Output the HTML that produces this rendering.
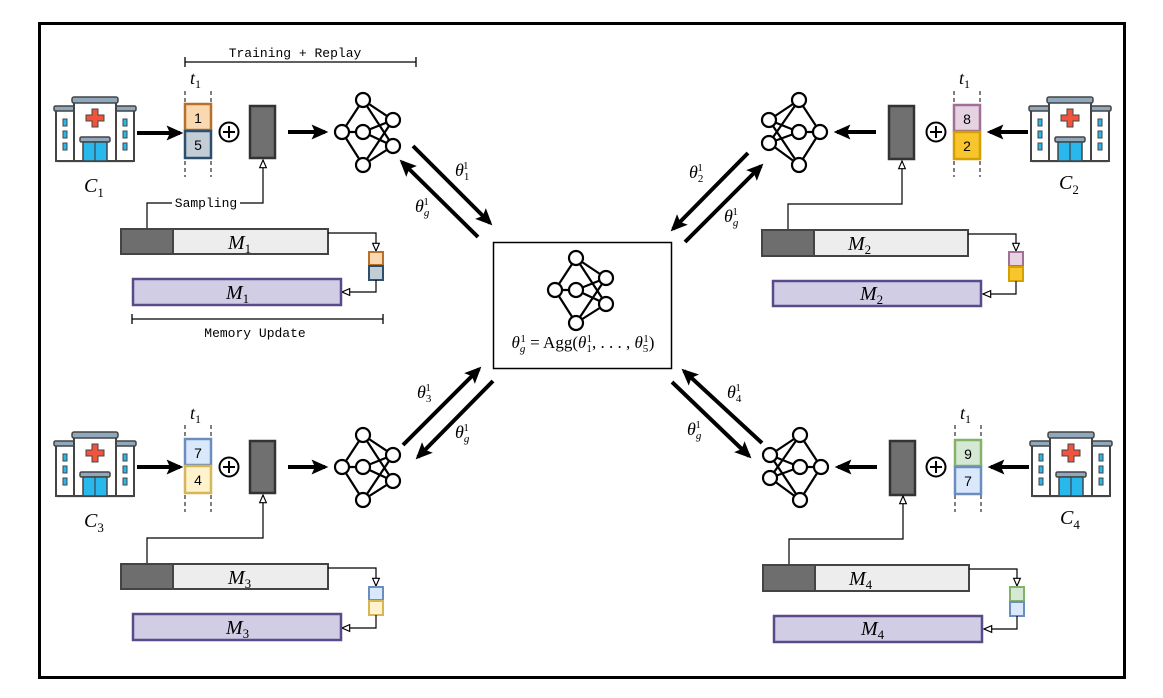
<!DOCTYPE html>
<html><head><meta charset="utf-8"><style>
html,body{margin:0;padding:0;background:#fff;}
svg{display:block;}
.m{font-family:"Liberation Serif","DejaVu Serif",serif;font-style:italic;}
.d{font-style:normal;}
.mono{font-family:"Liberation Mono",monospace;font-size:13px;}
.num{font-family:"Liberation Sans",sans-serif;font-size:14px;}
</style></head><body>
<svg width="1163" height="698" viewBox="0 0 1163 698" xmlns="http://www.w3.org/2000/svg">
<defs>
<marker id="hb" viewBox="0 0 10 10" refX="8" refY="5" markerWidth="4.2" markerHeight="4.2" orient="auto"><path d="M0,0.5L10,5L0,9.5L2,5z" fill="#000"/></marker>
<marker id="ho" viewBox="0 0 10 10" refX="9" refY="5" markerWidth="8" markerHeight="8" orient="auto"><path d="M1,1.5L9,5L1,8.5z" fill="#fff" stroke="#000" stroke-width="1.2"/></marker>
<g id="hosp">
  <rect x="2" y="62" width="76" height="4" fill="#e4e4e4"/>
  <rect x="1" y="12" width="20" height="52" fill="#fff" stroke="#444" stroke-width="2"/>
  <rect x="59" y="12" width="20" height="52" fill="#fff" stroke="#444" stroke-width="2"/>
  <rect x="-1" y="9" width="22" height="5" rx="1.5" fill="#8fa8bc" stroke="#444" stroke-width="1.5"/>
  <rect x="59" y="9" width="22" height="5" rx="1.5" fill="#8fa8bc" stroke="#444" stroke-width="1.5"/>
  <rect x="19" y="3" width="42" height="61" fill="#fff" stroke="#444" stroke-width="2"/>
  <rect x="17" y="0" width="46" height="6" rx="2" fill="#8fa8bc" stroke="#444" stroke-width="1.5"/>
  <path d="M37,12h6v6h6v6h-6v6h-6v-6h-6v-6h6z" fill="#f0543c" stroke="#444" stroke-width="1"/>
  <rect x="25" y="40" width="30" height="5" rx="1.5" fill="#8fa8bc" stroke="#444" stroke-width="1.5"/>
  <rect x="28" y="45" width="24" height="19" fill="#28b8ee" stroke="#444" stroke-width="1.5"/>
  <line x1="40" y1="45" x2="40" y2="64" stroke="#444" stroke-width="1.2"/>
  <g fill="#28b8ee" stroke="#444" stroke-width="1"><rect x="8" y="22" width="4" height="7"/><rect x="8" y="34" width="4" height="7"/><rect x="8" y="46" width="4" height="7"/><rect x="68" y="22" width="4" height="7"/><rect x="68" y="34" width="4" height="7"/><rect x="68" y="46" width="4" height="7"/></g>
</g>
<g id="nnL" fill="#fff" stroke="#000" stroke-width="2.2">
  <g fill="none"><path d="M0,32L21,0M0,32L21,32M0,32L21,65M21,0L51,20M21,0L51,46M21,32L51,20M21,32L51,46M21,65L51,20M21,65L51,46"/></g>
  <circle cx="0" cy="32" r="7"/><circle cx="21" cy="0" r="7"/><circle cx="21" cy="32" r="7"/><circle cx="21" cy="65" r="7"/><circle cx="51" cy="20" r="7"/><circle cx="51" cy="46" r="7"/>
</g>
<g id="nnR" fill="#fff" stroke="#000" stroke-width="2.2">
  <g fill="none"><path d="M51,32L30,0M51,32L30,32M51,32L30,65M30,0L0,20M30,0L0,43M30,32L0,20M30,32L0,43M30,65L0,20M30,65L0,43"/></g>
  <circle cx="51" cy="32" r="7"/><circle cx="30" cy="0" r="7"/><circle cx="30" cy="32" r="7"/><circle cx="30" cy="65" r="7"/><circle cx="0" cy="20" r="7"/><circle cx="0" cy="43" r="7"/>
</g>
<g id="oplus"><circle cx="0" cy="0" r="9.5" fill="#fff" stroke="#000" stroke-width="2"/><path d="M-6,0H6M0,-6V6" stroke="#000" stroke-width="2"/></g>
</defs>

<rect x="39.5" y="23.5" width="1085" height="654" fill="#fff" stroke="#000" stroke-width="3"/>

<!-- Q1 -->
<g>
<use href="#hosp" x="55" y="97"/>
<text x="84" y="192" class="m" font-size="20">C<tspan class="d" font-size="13" dy="5">1</tspan></text>
<line x1="137" y1="133" x2="180" y2="133" stroke="#000" stroke-width="4" marker-end="url(#hb)"/>
<text x="190" y="84" class="m" font-size="18">t<tspan class="d" font-size="12" dy="4">1</tspan></text>
<line x1="185" y1="91" x2="185" y2="177" stroke="#000" stroke-dasharray="4,3"/>
<line x1="211" y1="91" x2="211" y2="177" stroke="#000" stroke-dasharray="4,3"/>
<rect x="185" y="104" width="26" height="26" fill="#fbd9b0" stroke="#b8702a" stroke-width="2.5"/>
<rect x="185" y="131" width="26" height="27" fill="#c3cdd6" stroke="#2e4e6e" stroke-width="2.5"/>
<text x="198" y="123" class="num" text-anchor="middle">1</text>
<text x="198" y="150" class="num" text-anchor="middle">5</text>
<use href="#oplus" x="229" y="132"/>
<rect x="250" y="106" width="25" height="52" fill="#707070" stroke="#333" stroke-width="2.5"/>
<line x1="288" y1="132" x2="325" y2="132" stroke="#000" stroke-width="4" marker-end="url(#hb)"/>
<use href="#nnL" x="342" y="100"/>
<text x="295" y="57" class="mono" text-anchor="middle">Training + Replay</text>
<path d="M185,62H416M185,57V67M416,57V67" stroke="#000" fill="none" stroke-width="1.3"/>
<path d="M147,228V203H172M240,203H263V160" stroke="#000" fill="none" stroke-width="1.2" marker-end="url(#ho)"/>
<text x="206" y="207" class="mono" text-anchor="middle">Sampling</text>
<rect x="121" y="229" width="207" height="25" fill="#ededed" stroke="#444" stroke-width="2"/>
<rect x="121" y="229" width="52" height="25" fill="#6e6e6e" stroke="#444" stroke-width="2"/>
<text x="228" y="249" class="m" font-size="20">M<tspan class="d" font-size="13" dy="4">1</tspan></text>
<path d="M328,233H376V251" stroke="#000" fill="none" stroke-width="1.2" marker-end="url(#ho)"/>
<rect x="369" y="252" width="14" height="13" fill="#fbd9b0" stroke="#b8702a" stroke-width="2"/>
<rect x="369" y="266" width="14" height="14" fill="#c3cdd6" stroke="#2e4e6e" stroke-width="2"/>
<path d="M376,280V292H342" stroke="#000" fill="none" stroke-width="1.2" marker-end="url(#ho)"/>
<rect x="133" y="279" width="208" height="26" fill="#d0cde4" stroke="#5a4a8a" stroke-width="2.5"/>
<text x="226" y="299" class="m" font-size="20">M<tspan class="d" font-size="13" dy="4">1</tspan></text>
<path d="M132,319H383M132,314V324M383,314V324" stroke="#000" fill="none" stroke-width="1.3"/>
<text x="255" y="337" class="mono" text-anchor="middle">Memory Update</text>
</g>

<!-- Q3 -->
<g>
<use href="#hosp" x="55" y="432"/>
<text x="84" y="527" class="m" font-size="20">C<tspan class="d" font-size="13" dy="5">3</tspan></text>
<line x1="137" y1="467" x2="180" y2="467" stroke="#000" stroke-width="4" marker-end="url(#hb)"/>
<text x="190" y="419" class="m" font-size="18">t<tspan class="d" font-size="12" dy="4">1</tspan></text>
<line x1="185" y1="425" x2="185" y2="512" stroke="#000" stroke-dasharray="4,3"/>
<line x1="211" y1="425" x2="211" y2="512" stroke="#000" stroke-dasharray="4,3"/>
<rect x="185" y="439" width="26" height="26" fill="#dae8fc" stroke="#6c8ebf" stroke-width="2.5"/>
<rect x="185" y="466" width="26" height="27" fill="#fff2cc" stroke="#d6b656" stroke-width="2.5"/>
<text x="198" y="458" class="num" text-anchor="middle">7</text>
<text x="198" y="485" class="num" text-anchor="middle">4</text>
<use href="#oplus" x="229" y="467"/>
<rect x="250" y="441" width="25" height="52" fill="#707070" stroke="#333" stroke-width="2.5"/>
<line x1="288" y1="467" x2="325" y2="467" stroke="#000" stroke-width="4" marker-end="url(#hb)"/>
<use href="#nnL" x="342" y="435"/>
<path d="M147,563V538H263V495" stroke="#000" fill="none" stroke-width="1.2" marker-end="url(#ho)"/>
<rect x="121" y="564" width="207" height="25" fill="#ededed" stroke="#444" stroke-width="2"/>
<rect x="121" y="564" width="52" height="25" fill="#6e6e6e" stroke="#444" stroke-width="2"/>
<text x="228" y="584" class="m" font-size="20">M<tspan class="d" font-size="13" dy="4">3</tspan></text>
<path d="M328,568H376V586" stroke="#000" fill="none" stroke-width="1.2" marker-end="url(#ho)"/>
<rect x="369" y="587" width="14" height="13" fill="#dae8fc" stroke="#6c8ebf" stroke-width="2"/>
<rect x="369" y="601" width="14" height="14" fill="#fff2cc" stroke="#d6b656" stroke-width="2"/>
<path d="M376,615V628H342" stroke="#000" fill="none" stroke-width="1.2" marker-end="url(#ho)"/>
<rect x="133" y="614" width="208" height="26" fill="#d0cde4" stroke="#5a4a8a" stroke-width="2.5"/>
<text x="226" y="634" class="m" font-size="20">M<tspan class="d" font-size="13" dy="4">3</tspan></text>
</g>

<!-- Q2 -->
<g>
<use href="#hosp" x="1030" y="97"/>
<text x="1059" y="189" class="m" font-size="20">C<tspan class="d" font-size="13" dy="5">2</tspan></text>
<line x1="1028" y1="132" x2="990" y2="132" stroke="#000" stroke-width="4" marker-end="url(#hb)"/>
<text x="959" y="84" class="m" font-size="18">t<tspan class="d" font-size="12" dy="4">1</tspan></text>
<line x1="954" y1="91" x2="954" y2="177" stroke="#000" stroke-dasharray="4,3"/>
<line x1="980" y1="91" x2="980" y2="177" stroke="#000" stroke-dasharray="4,3"/>
<rect x="954" y="105" width="26" height="26" fill="#e6d3e1" stroke="#a0709a" stroke-width="2.5"/>
<rect x="954" y="132" width="26" height="27" fill="#f8c52c" stroke="#d4a000" stroke-width="2.5"/>
<text x="967" y="124" class="num" text-anchor="middle">8</text>
<text x="967" y="151" class="num" text-anchor="middle">2</text>
<use href="#oplus" x="936" y="132"/>
<rect x="889" y="106" width="25" height="53" fill="#707070" stroke="#333" stroke-width="2.5"/>
<line x1="876" y1="132" x2="837" y2="132" stroke="#000" stroke-width="4" marker-end="url(#hb)"/>
<use href="#nnR" x="769" y="100"/>
<path d="M788,230V204H902V161" stroke="#000" fill="none" stroke-width="1.2" marker-end="url(#ho)"/>
<rect x="762" y="230" width="206" height="26" fill="#ededed" stroke="#444" stroke-width="2"/>
<rect x="762" y="230" width="52" height="26" fill="#6e6e6e" stroke="#444" stroke-width="2"/>
<text x="848" y="250" class="m" font-size="20">M<tspan class="d" font-size="13" dy="4">2</tspan></text>
<path d="M968,234H1016V251" stroke="#000" fill="none" stroke-width="1.2" marker-end="url(#ho)"/>
<rect x="1009" y="252" width="14" height="14" fill="#e6d3e1" stroke="#a0709a" stroke-width="2"/>
<rect x="1009" y="267" width="14" height="14" fill="#f8c52c" stroke="#d4a000" stroke-width="2"/>
<path d="M1016,281V294H983" stroke="#000" fill="none" stroke-width="1.2" marker-end="url(#ho)"/>
<rect x="773" y="281" width="208" height="25" fill="#d0cde4" stroke="#5a4a8a" stroke-width="2.5"/>
<text x="860" y="300" class="m" font-size="20">M<tspan class="d" font-size="13" dy="4">2</tspan></text>
</g>

<!-- Q4 -->
<g>
<use href="#hosp" x="1031" y="432"/>
<text x="1060" y="524" class="m" font-size="20">C<tspan class="d" font-size="13" dy="5">4</tspan></text>
<line x1="1029" y1="467" x2="991" y2="467" stroke="#000" stroke-width="4" marker-end="url(#hb)"/>
<text x="960" y="419" class="m" font-size="18">t<tspan class="d" font-size="12" dy="4">1</tspan></text>
<line x1="955" y1="425" x2="955" y2="512" stroke="#000" stroke-dasharray="4,3"/>
<line x1="981" y1="425" x2="981" y2="512" stroke="#000" stroke-dasharray="4,3"/>
<rect x="955" y="440" width="26" height="26" fill="#d5e8d4" stroke="#82b366" stroke-width="2.5"/>
<rect x="955" y="467" width="26" height="27" fill="#dae8fc" stroke="#6c8ebf" stroke-width="2.5"/>
<text x="968" y="459" class="num" text-anchor="middle">9</text>
<text x="968" y="486" class="num" text-anchor="middle">7</text>
<use href="#oplus" x="936" y="467"/>
<rect x="890" y="441" width="25" height="54" fill="#707070" stroke="#333" stroke-width="2.5"/>
<line x1="877" y1="467" x2="838" y2="467" stroke="#000" stroke-width="4" marker-end="url(#hb)"/>
<use href="#nnR" x="770" y="435"/>
<path d="M789,565V539H903V496" stroke="#000" fill="none" stroke-width="1.2" marker-end="url(#ho)"/>
<rect x="763" y="565" width="206" height="26" fill="#ededed" stroke="#444" stroke-width="2"/>
<rect x="763" y="565" width="52" height="26" fill="#6e6e6e" stroke="#444" stroke-width="2"/>
<text x="849" y="585" class="m" font-size="20">M<tspan class="d" font-size="13" dy="4">4</tspan></text>
<path d="M969,569H1017V586" stroke="#000" fill="none" stroke-width="1.2" marker-end="url(#ho)"/>
<rect x="1010" y="587" width="14" height="14" fill="#d5e8d4" stroke="#82b366" stroke-width="2"/>
<rect x="1010" y="602" width="14" height="14" fill="#dae8fc" stroke="#6c8ebf" stroke-width="2"/>
<path d="M1017,616V629H984" stroke="#000" fill="none" stroke-width="1.2" marker-end="url(#ho)"/>
<rect x="774" y="616" width="208" height="26" fill="#d0cde4" stroke="#5a4a8a" stroke-width="2.5"/>
<text x="861" y="635" class="m" font-size="20">M<tspan class="d" font-size="13" dy="4">4</tspan></text>
</g>

<!-- center -->
<rect x="493.5" y="242.5" width="178" height="126" fill="#fff" stroke="#000" stroke-width="1.5"/>
<use href="#nnL" x="555" y="258"/>
<text x="583" y="348" class="m" font-size="17" text-anchor="middle">θ<tspan font-size="11" dy="4">g</tspan><tspan class="d" font-size="11" dy="-10" dx="-5">1</tspan><tspan class="d" dy="6"> = Agg(</tspan>θ<tspan class="d" font-size="11" dy="4">1</tspan><tspan class="d" font-size="11" dy="-10" dx="-5">1</tspan><tspan class="d" dy="6">, . . . , </tspan>θ<tspan class="d" font-size="11" dy="4">5</tspan><tspan class="d" font-size="11" dy="-10" dx="-5">1</tspan><tspan class="d" dy="6">)</tspan></text>

<!-- diagonal arrows -->
<g stroke="#000" stroke-width="4">
<line x1="413" y1="146" x2="490" y2="223" marker-end="url(#hb)"/>
<line x1="478" y1="237" x2="402" y2="162" marker-end="url(#hb)"/>
<line x1="748" y1="153" x2="673" y2="229" marker-end="url(#hb)"/>
<line x1="685" y1="242" x2="761" y2="166" marker-end="url(#hb)"/>
<line x1="403" y1="445" x2="479" y2="369" marker-end="url(#hb)"/>
<line x1="493" y1="381" x2="418" y2="457" marker-end="url(#hb)"/>
<line x1="762" y1="443" x2="684" y2="371" marker-end="url(#hb)"/>
<line x1="672" y1="382" x2="749" y2="456" marker-end="url(#hb)"/>
</g>
<g class="m" font-size="18">
<text x="455" y="176">θ<tspan class="d" font-size="11" dy="4">1</tspan><tspan class="d" font-size="11" dy="-11" dx="-6">1</tspan></text>
<text x="415" y="212">θ<tspan font-size="11" dy="4">g</tspan><tspan class="d" font-size="11" dy="-11" dx="-6">1</tspan></text>
<text x="689" y="178">θ<tspan class="d" font-size="11" dy="4">2</tspan><tspan class="d" font-size="11" dy="-11" dx="-6">1</tspan></text>
<text x="724" y="222">θ<tspan font-size="11" dy="4">g</tspan><tspan class="d" font-size="11" dy="-11" dx="-6">1</tspan></text>
<text x="417" y="398">θ<tspan class="d" font-size="11" dy="4">3</tspan><tspan class="d" font-size="11" dy="-11" dx="-6">1</tspan></text>
<text x="455" y="438">θ<tspan font-size="11" dy="4">g</tspan><tspan class="d" font-size="11" dy="-11" dx="-6">1</tspan></text>
<text x="727" y="398">θ<tspan class="d" font-size="11" dy="4">4</tspan><tspan class="d" font-size="11" dy="-11" dx="-6">1</tspan></text>
<text x="687" y="435">θ<tspan font-size="11" dy="4">g</tspan><tspan class="d" font-size="11" dy="-11" dx="-6">1</tspan></text>
</g>
</svg>
</body></html>
